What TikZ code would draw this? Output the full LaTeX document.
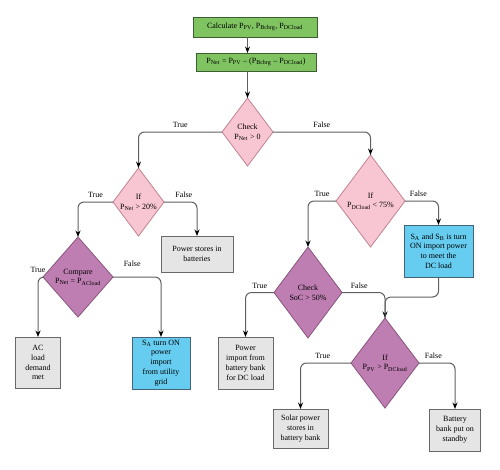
\documentclass[tikz,border=0pt]{standalone}
\usepackage{fontspec}
\setmainfont{Liberation Serif}
\usetikzlibrary{shapes.geometric,arrows.meta}
\definecolor{gfill}{RGB}{128,196,98}
\definecolor{gdraw}{RGB}{60,95,50}
\definecolor{pfill}{RGB}{248,198,210}
\definecolor{pdraw}{RGB}{190,130,145}
\definecolor{ufill}{RGB}{190,126,178}
\definecolor{udraw}{RGB}{135,85,125}
\definecolor{xfill}{RGB}{229,229,229}
\definecolor{xdraw}{RGB}{105,105,105}
\definecolor{bfill}{RGB}{102,205,240}
\definecolor{bdraw}{RGB}{70,100,120}
\definecolor{lcol}{RGB}{95,95,95}
\begin{document}
\begin{tikzpicture}[x=1pt,y=-1pt,
  font=\fontsize{8}{9.8}\selectfont,
  every node/.style={inner sep=0pt, outer sep=0pt},
  greenbox/.style={draw=gdraw, fill=gfill, line width=0.9pt, rectangle},
  graybox/.style={draw=xdraw, fill=xfill, line width=0.9pt, rectangle, align=center},
  bluebox/.style={draw=bdraw, fill=bfill, line width=0.9pt, rectangle, align=center},
  pinkdia/.style={draw=pdraw, fill=pfill, line width=0.8pt, diamond},
  purpdia/.style={draw=udraw, fill=ufill, line width=0.8pt, diamond},
  dtxt/.style={align=center},
  conn/.style={draw=lcol, line width=1pt, rounded corners=6pt, -{Stealth[length=6.5pt,width=5pt,black]}},
  plain/.style={draw=lcol, line width=1pt, rounded corners=6pt},
  lab/.style={above=4pt}]
\useasboundingbox (0,0) rectangle (500,469);
% top boxes
\node[greenbox, minimum width=124pt, minimum height=20pt] (b1) at (255,27) {Calculate P\textsubscript{PV}, P\textsubscript{Bchrg}, P\textsubscript{DCload}};
\node[greenbox, minimum width=120pt, minimum height=18pt] (b2) at (256,62) {P\textsubscript{Net} = P\textsubscript{PV} -- (P\textsubscript{Bchrg} -- P\textsubscript{DCload})};
% diamonds
\node[pinkdia, minimum width=51pt, minimum height=68pt, label={[dtxt]center:Check\\P\textsubscript{Net} > 0}] (d1) at (247.5,132) {};
\node[pinkdia, minimum width=51pt, minimum height=68pt, label={[dtxt]center:If\\P\textsubscript{Net} > 20\%}] (d2) at (138.5,202) {};
\node[purpdia, minimum width=70pt, minimum height=80pt, label={[dtxt]center:Compare\\P\textsubscript{Net} = P\textsubscript{ACload}}] (d3) at (78,277) {};
\node[pinkdia, minimum width=69pt, minimum height=92pt, label={[dtxt]center:If\\P\textsubscript{DCload} < 75\%}] (d4) at (370.5,201) {};
\node[purpdia, minimum width=68pt, minimum height=91pt, label={[dtxt]center:Check\\SoC > 50\%}] (d5) at (308,292.5) {};
\node[purpdia, minimum width=68pt, minimum height=90pt, label={[dtxt]center:If\\P\textsubscript{PV} > P\textsubscript{DCload}}] (d6) at (385,363) {};
% result boxes
\node[graybox, minimum width=72pt, minimum height=36pt] (g1) at (197,254) {Power stores in\\batteries};
\node[graybox, minimum width=45pt, minimum height=51pt] (g2) at (38,362.5) {AC\\load\\demand\\met};
\node[bluebox, minimum width=58pt, minimum height=52pt] (c1) at (161,363) {S\textsubscript{A} turn ON\\power\\import\\from utility\\grid};
\node[bluebox, minimum width=69pt, minimum height=52pt] (c2) at (438.5,251) {S\textsubscript{A} and S\textsubscript{B} is turn\\ON import power\\to meet the\\DC load};
\node[graybox, minimum width=55pt, minimum height=52pt] (g3) at (245.5,363) {Power\\import from\\battery bank\\for DC load};
\node[graybox, minimum width=55pt, minimum height=39pt] (g4) at (300.5,428.5) {Solar power\\stores in\\battery bank};
\node[graybox, minimum width=51pt, minimum height=42pt] (g5) at (455,430) {Battery\\bank put on\\standby};
\coordinate (m) at (385,297);
% connectors
\draw[conn] (b1.south -| d1.north) -- (b2.north -| d1.north);
\draw[conn] (b2.south -| d1.north) -- (d1.north);
\draw[conn] (d1.west) -| node[lab, pos=.25] (t1) {True} (d2.north);
\draw[conn] (d1.east) -| node[lab, pos=.25] (f1) {False} (d4.north);
\draw[conn] (d2.west) -| node[lab, pos=.25] (t2) {True} (d3.north);
\draw[conn] (d2.east) -| node[lab, pos=.3] (f2) {False} (g1.north);
\draw[conn] (d3.west) -| node[lab, pos=.1, xshift=-4pt] (t3) {True} (g2.north);
\draw[conn] (d3.east) -| node[lab, pos=.2, yshift=6pt] (f3) {False} (c1.north);
\draw[conn] (d4.west) -| node[lab, pos=.25] (t4) {True} (d5.north);
\draw[conn] (d4.east) -| node[lab, pos=.2] (f4) {False} (c2.north);
\draw[conn] (d5.west) -| node[lab, pos=.25] (t5) {True} (g3.north);
\draw[conn] (d5.east) -| node[lab, pos=.2] (f5) {False} (d6.north);
\draw[plain] (c2.south) |- (m) -- (m |- d6.north);
\draw[conn] (d6.west) -| node[lab, pos=.28] (t6) {True} (g4.north);
\draw[conn] (d6.east) -| node[lab, pos=.2] (f6) {False} (g5.north);
\end{tikzpicture}
\end{document}
